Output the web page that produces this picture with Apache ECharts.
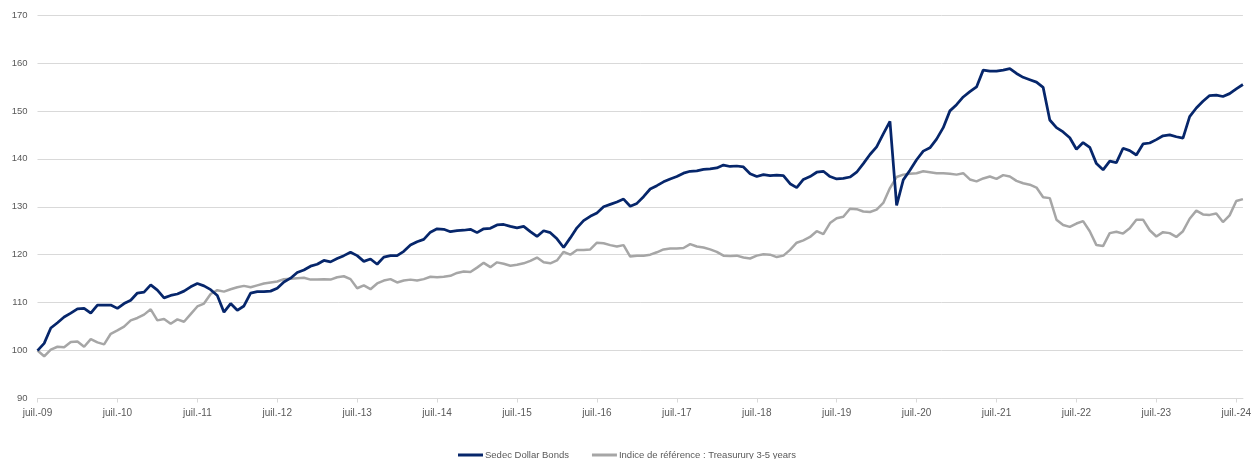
<!DOCTYPE html>
<html>
<head>
<meta charset="utf-8">
<script src="https://cdn.jsdelivr.net/npm/echarts@6/dist/echarts.min.js"></script>
<style>
  html, body { margin: 0; padding: 0; background: #ffffff; }
  #chart { width: 1254px; height: 459px; }
</style>
</head>
<body>
<div id="chart"></div>
<script>
// Monthly values, index 0 = July 2009
const sedecDollarBonds = [
  100.0, 101.5, 104.7, 105.8, 107.0, 107.8, 108.7, 108.8, 107.8, 109.5,
  109.5, 109.5, 108.8, 109.8, 110.5, 112.0, 112.2, 113.7, 112.6, 111.0,
  111.5, 111.8, 112.4, 113.3, 114.0, 113.5, 112.7, 111.5, 108.0, 109.8,
  108.4, 109.3, 112.0, 112.3, 112.3, 112.4, 113.0, 114.3, 115.1, 116.3,
  116.8, 117.6, 118.0, 118.8, 118.5, 119.2, 119.8, 120.5, 119.8, 118.6,
  119.1, 118.0, 119.5, 119.8, 119.8, 120.7, 122.0, 122.7, 123.2, 124.7,
  125.4, 125.3, 124.8, 125.0, 125.1, 125.3, 124.6, 125.4, 125.5, 126.2,
  126.3, 125.9, 125.6, 125.9, 124.8, 123.8, 125.0, 124.6, 123.3, 121.5,
  123.5, 125.6, 127.1, 128.0, 128.7, 130.0, 130.5, 131.0, 131.6, 130.1,
  130.7, 132.1, 133.7, 134.4, 135.2, 135.8, 136.3, 137.0, 137.4, 137.5,
  137.8, 137.9, 138.1, 138.7, 138.4, 138.5, 138.3, 136.9, 136.3, 136.7,
  136.5, 136.6, 136.5, 134.8, 134.0, 135.7, 136.3, 137.2, 137.4, 136.3,
  135.8, 135.9, 136.2, 137.2, 139.0, 140.9, 142.5, 145.2, 147.8, 130.3,
  135.6, 137.6, 139.8, 141.6, 142.3, 144.1, 146.5, 150.0, 151.3, 152.9,
  154.0, 155.0, 158.5, 158.3, 158.3, 158.5, 158.8, 157.8, 157.0, 156.5,
  156.0, 154.9, 148.1, 146.5, 145.6, 144.4, 142.0, 143.4, 142.4, 139.0,
  137.7, 139.5, 139.2, 142.2, 141.7, 140.8, 143.1, 143.3, 144.0, 144.8,
  145.0, 144.6, 144.3, 148.8, 150.6, 152.0, 153.2, 153.3, 153.0, 153.6,
  154.6, 155.5
];
const treasury35 = [
  100.0, 98.8, 100.2, 100.8, 100.7, 101.8, 101.9, 100.8, 102.4, 101.7,
  101.3, 103.5, 104.2, 105.0, 106.3, 106.8, 107.5, 108.6, 106.3, 106.6,
  105.6, 106.5, 106.0, 107.6, 109.2, 109.8, 111.8, 112.6, 112.3, 112.8,
  113.2, 113.5, 113.2, 113.6, 114.0, 114.2, 114.4, 114.9, 115.0, 115.1,
  115.2, 114.8, 114.8, 114.9, 114.8, 115.3, 115.5, 114.9, 113.0, 113.6,
  112.8, 114.0, 114.6, 114.9, 114.2, 114.6, 114.8, 114.6, 114.9, 115.4,
  115.3, 115.4, 115.6, 116.2, 116.5, 116.4, 117.3, 118.3, 117.4, 118.4,
  118.1, 117.7, 117.9, 118.2, 118.7, 119.4, 118.4, 118.2, 118.8, 120.6,
  120.0, 121.0, 121.0, 121.1, 122.5, 122.4, 122.0, 121.7, 122.0, 119.6,
  119.8, 119.8, 120.0, 120.5, 121.1, 121.3, 121.3, 121.4, 122.2, 121.7,
  121.5, 121.1, 120.6, 119.8, 119.7, 119.8, 119.4, 119.2, 119.8, 120.1,
  120.0, 119.5, 119.8, 121.0, 122.5, 123.0, 123.7, 124.9, 124.3, 126.6,
  127.6, 127.9, 129.6, 129.5, 129.0, 128.9, 129.4, 130.8, 133.9, 136.2,
  136.7, 136.9, 137.0, 137.4, 137.2, 137.0, 137.0, 136.9, 136.7, 137.0,
  135.7, 135.3, 135.9, 136.3, 135.8, 136.6, 136.3, 135.4, 134.9, 134.6,
  134.0, 132.0, 131.8, 127.3, 126.2, 125.8, 126.5, 127.0, 124.9, 122.0,
  121.8, 124.5, 124.8, 124.4, 125.5, 127.3, 127.3, 125.1, 123.8, 124.7,
  124.5, 123.7, 124.9, 127.5, 129.2, 128.4, 128.3, 128.6, 126.8, 128.2,
  131.2, 131.6
];
const tickLabels = [
  'juil.-09', 'juil.-10', 'juil.-11', 'juil.-12', 'juil.-13', 'juil.-14',
  'juil.-15', 'juil.-16', 'juil.-17', 'juil.-18', 'juil.-19', 'juil.-20',
  'juil.-21', 'juil.-22', 'juil.-23', 'juil.-24'
];
const seriesNames = ['Sedec Dollar Bonds', 'Indice de référence : Treasurury 3-5 years'];

const tickMonths = tickLabels.map((_, i) => i * 12);
const toPairs = arr => arr.map((v, i) => [i, v]);

const chart = echarts.init(document.getElementById('chart'), null, { renderer: 'canvas' });
const labelFont = 'Liberation Sans, Arial, sans-serif';
chart.setOption({
  animation: false,
  backgroundColor: '#ffffff',
  grid: { left: 37.5, right: 7, top: 15, bottom: 60.5, containLabel: false },
  legend: {
    data: seriesNames,
    icon: 'rect',
    left: 'center',
    top: 450,
    padding: 0,
    itemWidth: 25,
    itemHeight: 3,
    itemGap: 23,
    textStyle: { color: '#595959', fontSize: 9.5, fontFamily: labelFont, padding: [0, 0, 0, -3] }
  },
  xAxis: {
    type: 'value',
    min: 0,
    max: 181,
    axisLine: { show: true, lineStyle: { color: '#d9d9d9', width: 1 } },
    axisTick: { show: true, length: 4, customValues: tickMonths, lineStyle: { color: '#d9d9d9' } },
    axisLabel: {
      customValues: tickMonths,
      color: '#595959', fontSize: 10, fontFamily: labelFont, margin: 10,
      formatter: v => tickLabels[Math.round(v / 12)] || ''
    },
    splitLine: { show: false }
  },
  yAxis: {
    type: 'value',
    min: 90,
    max: 170,
    interval: 10,
    axisLine: { show: false },
    axisTick: { show: false },
    axisLabel: { color: '#595959', fontSize: 9.5, fontFamily: labelFont, margin: 10 },
    splitLine: { lineStyle: { color: '#d9d9d9', width: 1 } }
  },
  series: [
    {
      name: seriesNames[0],
      type: 'line',
      data: toPairs(sedecDollarBonds),
      symbol: 'none',
      z: 3,
      lineStyle: { color: '#06266b', width: 2.75 },
      itemStyle: { color: '#06266b' }
    },
    {
      name: seriesNames[1],
      type: 'line',
      data: toPairs(treasury35),
      symbol: 'none',
      z: 2,
      lineStyle: { color: '#a6a6a6', width: 2.5 },
      itemStyle: { color: '#a6a6a6' }
    }
  ]
});
</script>
</body>
</html>
